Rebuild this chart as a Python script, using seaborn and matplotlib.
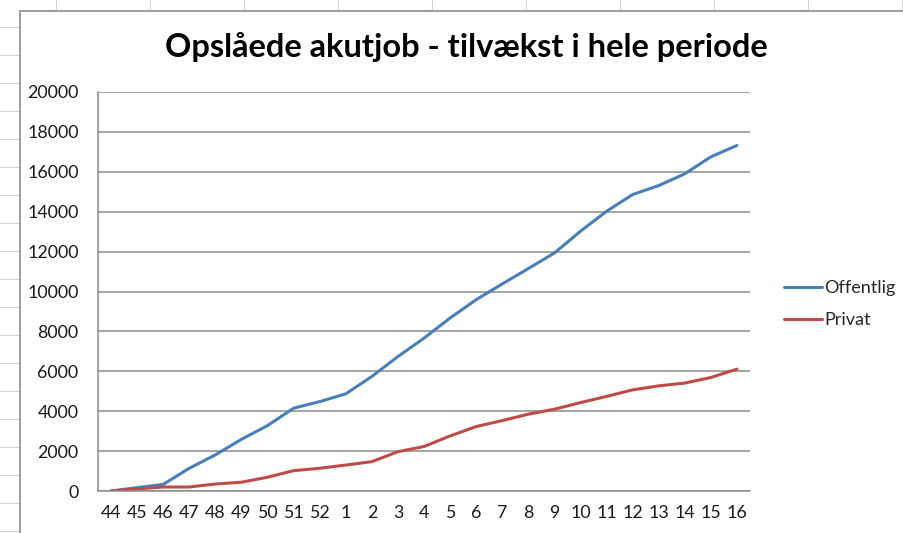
import pandas as pd
import seaborn as sns
import matplotlib.pyplot as plt
from matplotlib.lines import Line2D
from matplotlib.patches import Rectangle

# data
uger = ["44", "45", "46", "47", "48", "49", "50", "51", "52", "1", "2", "3", "4",
        "5", "6", "7", "8", "9", "10", "11", "12", "13", "14", "15", "16"]
offentlig = [0, 170, 330, 1140, 1810, 2590, 3280, 4150, 4480, 4870, 5740, 6740, 7660,
             8670, 9590, 10380, 11150, 11930, 13020, 14020, 14860, 15310, 15900, 16750, 17320]
privat = [0, 100, 200, 200, 350, 440, 690, 1020, 1140, 1300, 1470, 1970, 2230,
          2760, 3230, 3530, 3850, 4100, 4430, 4740, 5070, 5270, 5410, 5690, 6110]

df = pd.DataFrame({"uge": uger * 2,
                   "antal": offentlig + privat,
                   "sektor": ["Offentlig"] * len(uger) + ["Privat"] * len(uger)})

sns.set_style("white")
plt.rcParams["font.family"] = ["Lato", "DejaVu Sans"]

W, H = 904, 533
fig = plt.figure(figsize=(W / 100, H / 100), dpi=100)

# spreadsheet cells behind the chart
for x in range(56, W, 94):
    fig.add_artist(Line2D([x / W, x / W], [0, 1], color="#d4d4d4", lw=0.8, zorder=-3))
for y in range(27, H, 28):
    fig.add_artist(Line2D([0, 1], [1 - y / H, 1 - y / H], color="#d4d4d4", lw=0.8, zorder=-3))
fig.add_artist(Rectangle((20 / W, -0.1), 1, 1 - 11 / H + 0.1, transform=fig.transFigure,
                         facecolor="white", edgecolor="#8c8c8c", lw=1.2, zorder=-2))

ax = fig.add_axes([98 / W, 42 / H, 652 / W, 399 / H])
ax.set_facecolor("none")
sns.lineplot(data=df, x="uge", y="antal", hue="sektor", sort=False,
             palette={"Offentlig": "#4a7ebb", "Privat": "#be4b48"},
             lw=2.2, ax=ax, legend=False)

ax.set_xlim(-0.5, len(uger) - 0.5)
ax.set_ylim(0, 20000)
ax.set_yticks(range(0, 20001, 2000))
ax.grid(axis="y", color="#8c8c8c", lw=1.1)
ax.set_axisbelow(True)
for s in ["top", "right"]:
    ax.spines[s].set_visible(False)
for s in ["left", "bottom"]:
    ax.spines[s].set_color("#8c8c8c")
    ax.spines[s].set_linewidth(1.1)
ax.tick_params(length=0, labelsize=12.8, colors="#1a1a1a")
ax.tick_params(axis="y", pad=14)
ax.tick_params(axis="x", pad=10)
ax.set_xlabel("")
ax.set_ylabel("")

fig.text(466 / W, 1 - 47 / H, "Opslåede akutjob - tilvækst i hele periode",
         ha="center", va="center", fontsize=23.5, fontweight="bold", color="black")

handles = [Line2D([], [], color="#4a7ebb", lw=2.2), Line2D([], [], color="#be4b48", lw=2.2)]
fig.legend(handles, ["Offentlig", "Privat"], loc="center left",
           bbox_to_anchor=(768 / W, 1 - 304 / H), frameon=False, fontsize=13,
           handlelength=2.1, handletextpad=0.1, labelspacing=0.9)

fig.savefig("out.png", dpi=100)
